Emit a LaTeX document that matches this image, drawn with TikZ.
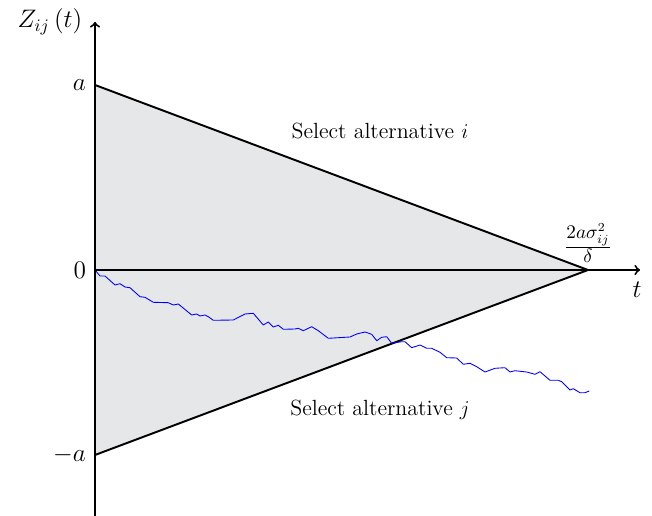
\documentclass[tikz,border=0pt]{standalone}
\usepackage{amsmath}
\begin{document}
\begin{tikzpicture}[x=0.02cm,y=-0.02cm,
  axis/.style={line width=1.1pt,->,>=to},
  bound/.style={line width=1.1pt},
  walk/.style={blue,line width=0.5pt,line join=round},
  axlabel/.style={font=\fontsize{14.4}{16}\selectfont,inner sep=1pt},
  region/.style={font=\fontsize{12.5}{14}\selectfont}]
\useasboundingbox (0,0) rectangle (652,516);
\coordinate (O) at (95,270);
\coordinate (A) at (95,85);
\coordinate (B) at (95,455);
\coordinate (P) at (588,270);
\coordinate (Ybot) at (95,516);
\coordinate (Ytop) at (95,22);
\coordinate (Xend) at (640,270);
\fill[fill={rgb,255:red,230;green,231;blue,232}] (A) -- (P) -- (B) -- cycle;
\draw[bound] (A) -- (P) -- (B);
\draw[walk] (95,270) -- (100,276) -- (105,276) -- (115,285) -- (120,283.7) -- (125,287) -- (130,287.7) -- (140,296.7) -- (145,297.3) -- (153.3,302.3) -- (168.3,302.7) -- (173.3,305) -- (178.3,304) -- (191.7,315) -- (196.7,314) -- (200,316) -- (205,315) -- (208.3,316.7) -- (213.3,320.3) -- (233.3,320) -- (245,314) -- (253.3,313.3) -- (263.3,325) -- (268.3,322) -- (273.3,327) -- (278.3,325.3) -- (283.3,329.3) -- (295,329) -- (298.3,328.3) -- (303.3,330.7) -- (311.7,326.7) -- (318.3,330.7) -- (328.3,338.3) -- (350,337) -- (356.7,334) -- (365,332) -- (371.7,334.3) -- (376.7,340.7) -- (381.7,337.3) -- (386.7,336.7) -- (391.7,343.3) -- (401.7,341.7) -- (405,341.7) -- (411.7,347.7) -- (420,345) -- (426.7,348.3) -- (431.7,348.3) -- (440,352.3) -- (446.7,357.7) -- (456.7,358) -- (463.3,364.3) -- (470,363.3) -- (476.7,366.7) -- (485,372) -- (495,368.3) -- (505,367.7) -- (510,372) -- (515,370.7) -- (526.7,372) -- (535,374.3) -- (540,371.7) -- (550,380.3) -- (558.3,380.3) -- (561.7,381.7) -- (570,390) -- (573.3,388.7) -- (580,392.7) -- (585,392.7) -- (589.3,391);
\draw[axis] (O) -- (Xend);
\draw[axis] (Ybot) -- (Ytop);
\node[axlabel,anchor=east] (la) at (88,85) {$a$};
\node[axlabel,anchor=east] (l0) at (88,270) {$0$};
\node[axlabel,anchor=east] (lma) at (88,455) {$-a$};
\node[axlabel] (lz) at (50,22) {$Z_{ij}\left(t\right)$};
\node[axlabel] (lt) at (637,290) {$t$};
\node[font=\fontsize{15}{17}\selectfont] (lf) at (588,243) {$\frac{2a\sigma_{ij}^2}{\delta}$};
\node[region] (si) at (380,131) {Select alternative $i$};
\node[region] (sj) at (380,410) {Select alternative $j$};
\end{tikzpicture}
\end{document}
